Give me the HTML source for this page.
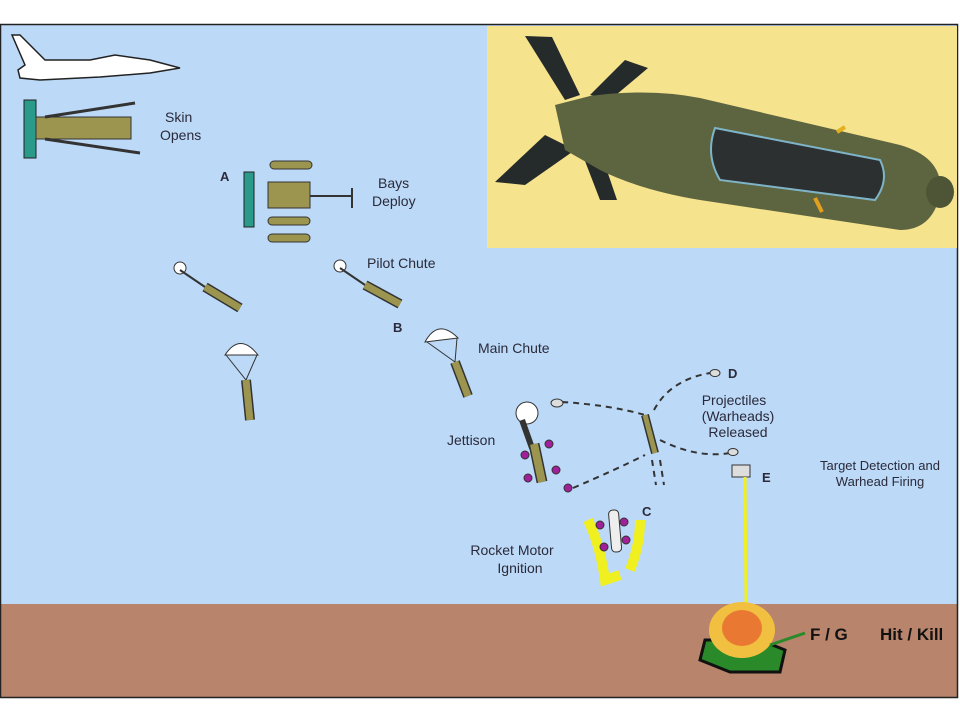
<!DOCTYPE html>
<html><head><style>
html,body{margin:0;padding:0;background:#fff;width:960px;height:720px;overflow:hidden}
svg{display:block}
text{font-family:"Liberation Sans",sans-serif;fill:#2a2a3a}
</style></head><body>
<svg width="960" height="720" viewBox="0 0 960 720" xmlns="http://www.w3.org/2000/svg">
<rect x="0" y="0" width="960" height="720" fill="#fff"/>
<rect x="1" y="25" width="956" height="580" fill="#bcd9f7"/>
<rect x="1" y="604" width="956" height="93" fill="#b8846c"/>
<rect x="0.5" y="24.5" width="957" height="673" fill="none" stroke="#222" stroke-width="1.5"/>
<!-- photo -->
<rect x="487" y="26" width="470" height="222" fill="#f6e38e"/>
<g>
<polygon points="525,36 552,37 580,95 565,100" fill="#252a2a"/>
<polygon points="590,95 625,60 648,68 610,100" fill="#252a2a"/>
<polygon points="495,182 545,135 575,150 525,185" fill="#252a2a"/>
<polygon points="580,148 600,150 617,200 600,200" fill="#252a2a"/>
<path d="M555,105 L590,96 Q650,88 700,98 L900,145 Q945,158 940,195 Q932,230 900,230 L700,200 Q640,190 600,170 L565,150 Z" fill="#5d6540"/>
<path d="M715,128 L880,160 Q890,180 875,200 L720,180 Q705,155 715,128 Z" fill="#2c3030" stroke="#7fb4c8" stroke-width="2"/>
<ellipse cx="940" cy="192" rx="14" ry="16" fill="#4e5536"/>
<line x1="837" y1="132" x2="845" y2="127" stroke="#e3b020" stroke-width="4"/>
<line x1="815" y1="198" x2="822" y2="212" stroke="#e3a020" stroke-width="4"/>
</g>
<!-- jet -->
<path d="M12,35 L20,35 L45,60 L90,60 L115,55 L150,60 L180,68 L150,73 L100,77 L40,80 L20,78 L18,70 L25,65 Z" fill="#fff" stroke="#222" stroke-width="1.5"/>
<!-- skin opens -->
<rect x="24" y="100" width="12" height="58" fill="#2a9a8a" stroke="#222"/>
<rect x="36" y="117" width="95" height="22" fill="#9c9550" stroke="#333"/>
<path d="M45,117 L135,103 M45,139 L140,153" stroke="#333" stroke-width="3" fill="none"/>
<text x="165" y="122" font-size="14">Skin</text><text x="160" y="140" font-size="14">Opens</text>
<!-- bays deploy -->
<text x="220" y="181" font-size="13" font-weight="bold">A</text>
<rect x="244" y="172" width="10" height="55" fill="#2a9a8a" stroke="#222"/>
<rect x="270" y="161" width="42" height="8" rx="4" fill="#9c9550" stroke="#333"/>
<rect x="268" y="182" width="42" height="26" fill="#9c9550" stroke="#333"/>
<rect x="268" y="217" width="42" height="8" rx="4" fill="#9c9550" stroke="#333"/>
<rect x="268" y="234" width="42" height="8" rx="4" fill="#9c9550" stroke="#333"/>
<path d="M310,196 L352,196 M352,188 L352,208" stroke="#333" stroke-width="2"/>
<text x="378" y="188" font-size="14">Bays</text><text x="372" y="206" font-size="14">Deploy</text>
<!-- pilot chutes -->
<circle cx="180" cy="268" r="6" fill="#fff" stroke="#333"/>
<line x1="180" y1="270" x2="205" y2="287" stroke="#333" stroke-width="2"/>
<line x1="205" y1="287" x2="240" y2="308" stroke="#333" stroke-width="10"/><line x1="205" y1="287" x2="240" y2="308" stroke="#9c9550" stroke-width="7"/>
<circle cx="340" cy="266" r="6" fill="#fff" stroke="#333"/>
<line x1="340" y1="268" x2="365" y2="285" stroke="#333" stroke-width="2"/>
<line x1="365" y1="285" x2="400" y2="304" stroke="#333" stroke-width="10"/><line x1="365" y1="285" x2="400" y2="304" stroke="#9c9550" stroke-width="7"/>
<text x="367" y="268" font-size="14">Pilot Chute</text>
<!-- main chutes -->
<path d="M225,355 Q240,332 258,355 Z" fill="#fff" stroke="#333"/>
<path d="M226,355 L246,380 L257,355" stroke="#333" fill="none"/>
<line x1="246" y1="380" x2="250" y2="420" stroke="#333" stroke-width="10"/><line x1="246" y1="380" x2="250" y2="420" stroke="#9c9550" stroke-width="7"/>
<text x="393" y="332" font-size="13" font-weight="bold">B</text>
<path d="M425,342 Q438,318 458,338 Z" fill="#fff" stroke="#333"/>
<path d="M427,342 L455,362 L457,338" stroke="#333" fill="none"/>
<line x1="455" y1="362" x2="468" y2="396" stroke="#333" stroke-width="10"/><line x1="455" y1="362" x2="468" y2="396" stroke="#9c9550" stroke-width="7"/>
<text x="478" y="353" font-size="14">Main Chute</text>
<!-- jettison -->
<circle cx="527" cy="413" r="11" fill="#fff" stroke="#333"/>
<path d="M522,420 L532,448" stroke="#333" stroke-width="6"/>
<line x1="534" y1="444" x2="542" y2="482" stroke="#333" stroke-width="11"/><line x1="534" y1="444" x2="542" y2="482" stroke="#9c9550" stroke-width="8"/>
<g fill="#a0209a" stroke="#333"><circle cx="525" cy="455" r="4"/><circle cx="549" cy="444" r="4"/><circle cx="556" cy="470" r="4"/><circle cx="528" cy="478" r="4"/><circle cx="568" cy="488" r="4"/></g>
<text x="447" y="445" font-size="14">Jettison</text>
<!-- dashed trajectories -->
<g fill="none" stroke="#333" stroke-width="2" stroke-dasharray="6,5">
<path d="M562,402 Q610,405 645,415"/>
<path d="M654,410 Q670,380 710,373"/>
<path d="M660,440 Q700,460 735,452"/>
<path d="M573,488 Q615,470 645,455"/>
<path d="M652,460 L656,485 M660,460 L664,485"/>
</g>
<line x1="645" y1="415" x2="655" y2="453" stroke="#333" stroke-width="8"/><line x1="645" y1="415" x2="655" y2="453" stroke="#9c9550" stroke-width="5"/>
<ellipse cx="557" cy="403" rx="6" ry="4" fill="#ddd" stroke="#333"/>
<ellipse cx="715" cy="373" rx="5" ry="3.5" fill="#ddd" stroke="#333"/>
<ellipse cx="733" cy="452" rx="5" ry="3.5" fill="#ddd" stroke="#333"/>
<text x="728" y="378" font-size="13" font-weight="bold">D</text>
<text x="734" y="405" font-size="14" text-anchor="middle">Projectiles</text>
<text x="738" y="421" font-size="14" text-anchor="middle">(Warheads)</text>
<text x="738" y="437" font-size="14" text-anchor="middle">Released</text>
<!-- E -->
<rect x="732" y="465" width="18" height="12" fill="#ddd" stroke="#333"/>
<line x1="745" y1="477" x2="746" y2="604" stroke="#f0f020" stroke-width="3"/>
<text x="762" y="482" font-size="13" font-weight="bold">E</text>
<text x="880" y="470" font-size="13" text-anchor="middle">Target Detection and</text>
<text x="880" y="486" font-size="13" text-anchor="middle">Warhead Firing</text>
<!-- C -->
<path d="M588,520 Q600,545 605,580 L620,575 M640,520 Q640,545 630,570" stroke="#f0f020" stroke-width="10" fill="none"/>
<rect x="610" y="510" width="10" height="42" rx="4" fill="#eee" stroke="#333" transform="rotate(-5 615 530)"/>
<g fill="#a0209a" stroke="#333"><circle cx="600" cy="525" r="4"/><circle cx="624" cy="522" r="4"/><circle cx="626" cy="540" r="4"/><circle cx="604" cy="547" r="4"/></g>
<text x="642" y="516" font-size="13" font-weight="bold">C</text>
<text x="512" y="555" font-size="14" text-anchor="middle">Rocket Motor</text>
<text x="520" y="573" font-size="14" text-anchor="middle">Ignition</text>
<!-- explosion -->
<path d="M705,640 L700,660 L730,672 L780,672 L785,650 L760,640 Z" fill="#2a8a2a" stroke="#111" stroke-width="3"/>
<ellipse cx="742" cy="630" rx="33" ry="28" fill="#f2c040"/>
<ellipse cx="742" cy="628" rx="20" ry="18" fill="#e34a2a" opacity="0.6"/>
<line x1="770" y1="645" x2="805" y2="633" stroke="#2a8a2a" stroke-width="3"/>
<text x="810" y="640" font-size="17" font-weight="bold" fill="#111" style="fill:#111">F / G</text>
<text x="880" y="640" font-size="17" font-weight="bold" style="fill:#111">Hit / Kill</text>
</svg>
</body></html>
